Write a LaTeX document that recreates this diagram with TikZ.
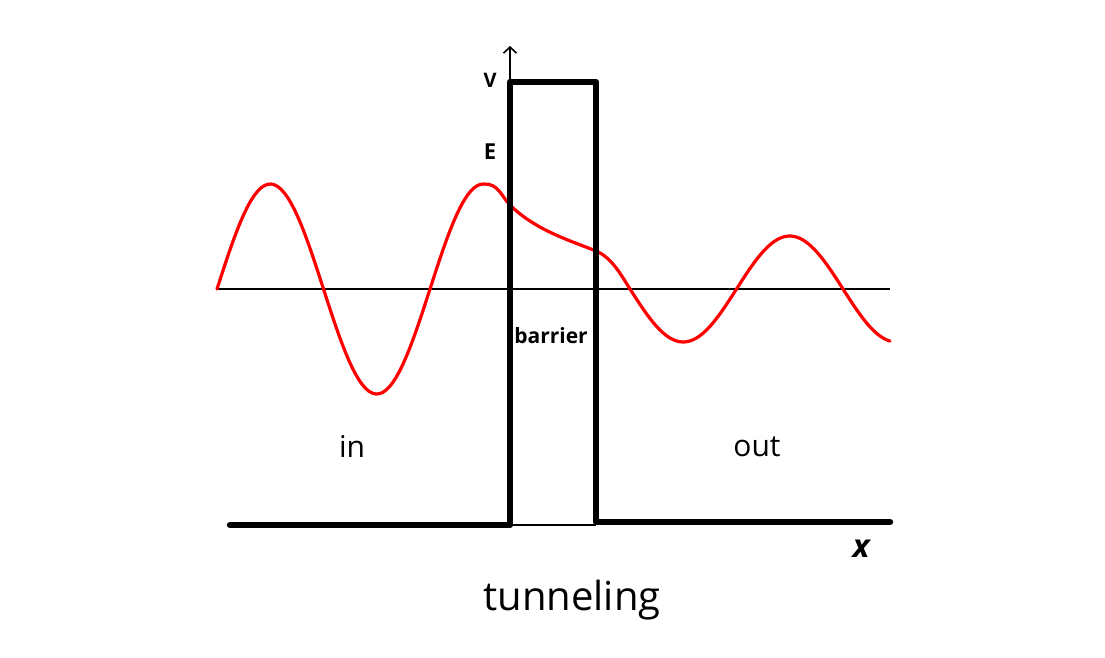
\documentclass[tikz,border=0pt]{standalone}
\usepackage{fontspec}
\setmainfont{Open Sans}
\usepackage{tikz}
\usetikzlibrary{arrows.meta}
\tikzset{
    label_text/.style = {align=center, inner sep=0pt, text centered, black},
    wall/.style = {line width=6.5pt, black, line cap=round, line join=round},
    thin_line/.style = {line width=1.6pt, black},
    wave/.style = {line width=3.2pt, red, line cap=round, line join=round}
}

\begin{document}
\begin{tikzpicture}
                    [x=1pt, y=-1pt]
                    \useasboundingbox (0,0) rectangle (1105,657);

                    \coordinate (axisL) at (217,289);
                    \coordinate (axisR) at (890,289);
                    \coordinate (groundL) at (230,525);
                    \coordinate (barBL) at (510,525);
                    \coordinate (barTL) at (510,82);
                    \coordinate (barTR) at (596,82);
                    \coordinate (barBR) at (596,522);
                    \coordinate (groundR) at (890,522);
                    \coordinate (vtop) at (510,46);

                    \draw [thin_line] (axisL) -- (axisR);
                    \draw [thin_line] (barBL) -- (barBL -| barBR);
                    \draw [thin_line, -{Straight Barb[length=6pt, width=13pt]}] (barTL) -- (vtop);

                    \draw [wave]
                        plot [domain=217:484, samples=80] (\x, {289-105*sin((\x-217)*1.6901)})
                        .. controls (498,183) and (502,197) .. (510,205)
                        .. controls (535,230) and (570,240.5) .. (596,251)
                        .. controls (612,257.5) and (622,276.5) .. (630,289)
                        -- plot [domain=630:890, samples=80] (\x, {289+53*sin((\x-630)*1.6901)});

                    \draw [wall] (groundL) -- (barBL) -- (barTL) -- (barTR) -- (barBR) -- (groundR);

                    \node [label_text, font=\fontsize{20}{22}\selectfont\bfseries] (vlab) at (490,80) {V};
                    \node [label_text, font=\fontsize{22}{24}\selectfont\bfseries] (elab) at (490,152) {E};
                    \node [label_text, font=\fontsize{21}{24}\selectfont\bfseries] (barrier) at (551,336) {barrier};
                    \node [label_text, font=\fontsize{30}{32}\selectfont] (inlab) at (352,446) {in};
                    \node [label_text, font=\fontsize{30}{32}\selectfont] (outlab) at (757,447) {out};
                    \node [label_text, font=\fontsize{32}{34}\selectfont\bfseries\itshape] (xlab) at (861,549) {x};
                    \node [label_text, anchor=base, font=\fontsize{40}{44}\selectfont] (title) at (572,610) {tunneling};
                \end{tikzpicture}
\end{document}
